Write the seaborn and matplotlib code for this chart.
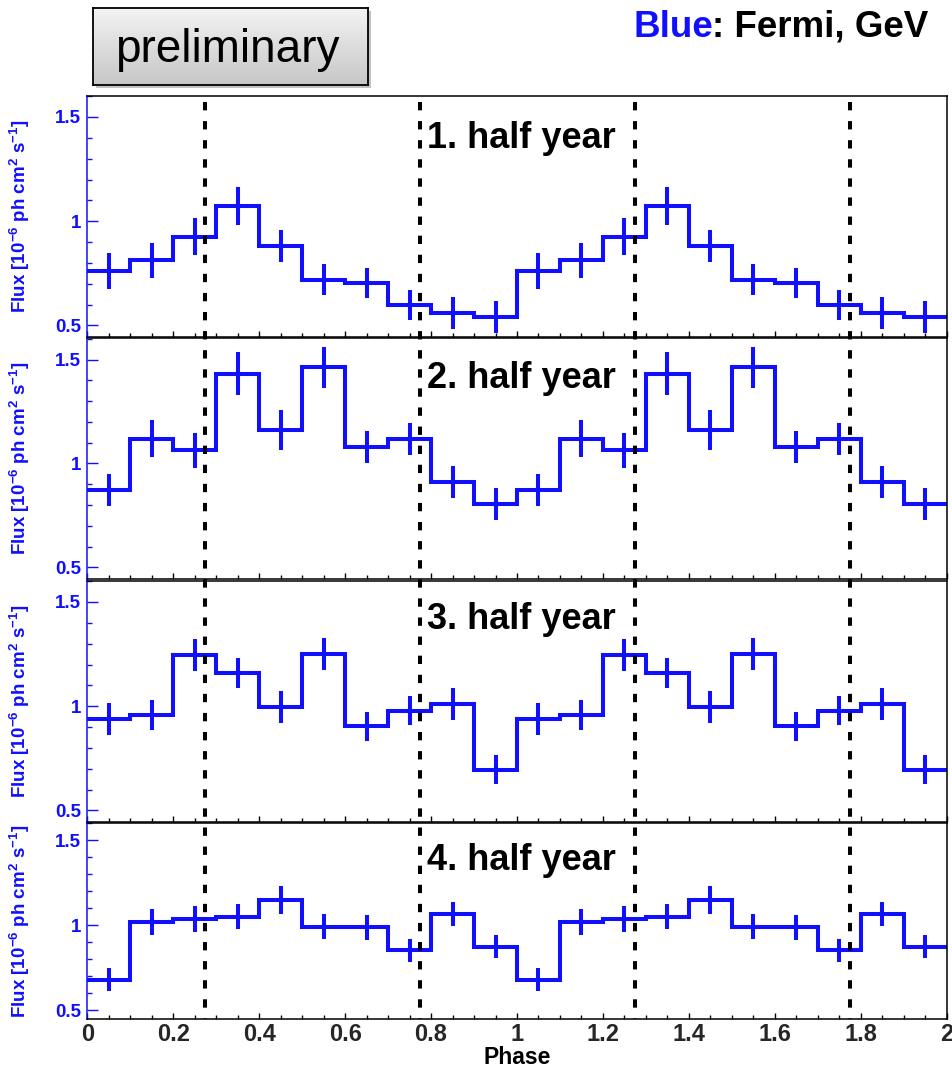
import numpy as np
import matplotlib
matplotlib.use("Agg")
import matplotlib.pyplot as plt
import seaborn as sns
from matplotlib.lines import Line2D
from matplotlib.patches import Rectangle
from matplotlib.ticker import MultipleLocator, FormatStrFormatter
from matplotlib.transforms import blended_transform_factory

# ---- data: folded light curve, one orbital cycle of 10 phase bins per half year
flux_h1 = [0.760, 0.813, 0.925, 1.073, 0.881, 0.720, 0.704, 0.597, 0.560, 0.541]
err_h1 = [0.086, 0.084, 0.088, 0.090, 0.078, 0.076, 0.070, 0.071, 0.076, 0.075]

flux_h2 = [0.872, 1.120, 1.064, 1.431, 1.160, 1.463, 1.077, 1.116, 0.909, 0.805]
err_h2 = [0.076, 0.090, 0.085, 0.104, 0.097, 0.098, 0.077, 0.077, 0.077, 0.078]

flux_h3 = [0.940, 0.960, 1.246, 1.158, 0.995, 1.251, 0.903, 0.979, 1.011, 0.695]
err_h3 = [0.076, 0.072, 0.076, 0.072, 0.076, 0.077, 0.069, 0.069, 0.076, 0.069]

flux_h4 = [0.678, 1.018, 1.037, 1.051, 1.149, 0.992, 0.988, 0.851, 1.065, 0.874]
err_h4 = [0.067, 0.078, 0.078, 0.075, 0.081, 0.075, 0.074, 0.067, 0.071, 0.068]

panel_labels = ["1. half year", "2. half year", "3. half year", "4. half year"]
bin_width = 0.1
n_cycles = 2
marker_phases = [0.275, 0.775, 1.275, 1.775]
x_ticks = [0, 0.2, 0.4, 0.6, 0.8, 1.0, 1.2, 1.4, 1.6, 1.8, 2.0]
y_ticks = [0.5, 1.0, 1.5]

series = [(flux_h1, err_h1), (flux_h2, err_h2), (flux_h3, err_h3), (flux_h4, err_h4)]

# ---- style
sns.set_style("white")
plt.rcParams["font.family"] = ["Liberation Sans", "DejaVu Sans"]
plt.rcParams["mathtext.fontset"] = "custom"
plt.rcParams["mathtext.rm"] = "Liberation Sans:bold"
plt.rcParams["mathtext.bf"] = "Liberation Sans:bold"
plt.rcParams["mathtext.it"] = "Liberation Sans:bold"

BLUE = "#1010ff"
W, H = 952, 1068
fig = plt.figure(figsize=(W / 100, H / 100), dpi=100)
fig.patch.set_facecolor("white")

# panel extents in pixels (top, bottom)
panel_px = [(95.7, 336.5), (338.3, 578.5), (580.7, 821.5), (823.0, 1019.0)]
left_px, right_px = 87.3, 946.7
label_drop_px = [52.5, 50.0, 48.5, 47.5]

axes = []
for i, ((top, bot), (flux, err)) in enumerate(zip(panel_px, series)):
    ax = fig.add_axes([left_px / W, 1 - bot / H, (right_px - left_px) / W, (bot - top) / H])
    axes.append(ax)

    vals = np.tile(np.asarray(flux), n_cycles)
    errs = np.tile(np.asarray(err), n_cycles)
    edges = np.arange(len(vals) + 1) * bin_width
    centers = edges[:-1] + bin_width / 2

    sns.lineplot(x=edges, y=np.append(vals, vals[-1]), drawstyle="steps-post",
                 color=BLUE, lw=2.9, ax=ax, solid_joinstyle="miter")
    ax.errorbar(centers, vals, yerr=errs, fmt="none", ecolor=BLUE,
                elinewidth=2.9, capsize=0)

    ax.set_xlim(0, 2)
    ax.set_ylim(0.447, 1.602)
    ax.set_xticks(x_ticks)
    ax.xaxis.set_minor_locator(MultipleLocator(0.05))
    ax.set_yticks(y_ticks)
    ax.yaxis.set_minor_locator(MultipleLocator(0.1))
    ax.yaxis.set_major_formatter(FormatStrFormatter("%g"))
    ax.xaxis.set_major_formatter(FormatStrFormatter("%g"))

    ax.tick_params(axis="x", which="both", direction="in", bottom=True, top=False,
                   color="black", width=1.0, labelsize=17, pad=3)
    ax.tick_params(axis="x", which="major", length=4.5)
    ax.tick_params(axis="x", which="minor", length=2.6)
    ax.tick_params(axis="y", which="both", direction="in", left=True, right=False,
                   color=BLUE, labelcolor=BLUE, width=1.0, labelsize=13.5, pad=4.5)
    ax.tick_params(axis="y", which="major", length=8)
    ax.tick_params(axis="y", which="minor", length=3.8)
    for lab in ax.get_xticklabels() + ax.get_yticklabels():
        lab.set_fontweight("bold")

    for side in ["top", "right", "bottom"]:
        ax.spines[side].set_color("black")
        ax.spines[side].set_linewidth(1.1)
    ax.spines["left"].set_color(BLUE)
    ax.spines["left"].set_linewidth(1.1)

    ax.set_ylabel(r"Flux [10$^{-6}$ ph cm$^{2}$ s$^{-1}$]", color=BLUE,
                  fontsize=13.5, fontweight="bold")
    ax.yaxis.set_label_coords(-0.064, 0.5)
    ax.set_xlabel("")

    if i < 3:
        ax.tick_params(axis="x", labelbottom=False)

    ax.annotate(panel_labels[i], xy=(0.79, 1.0), xycoords=("data", "axes fraction"),
                xytext=(0, -label_drop_px[i]), textcoords="offset pixels",
                ha="left", va="baseline", fontsize=26, fontweight="bold", color="black")

# x-axis title under the bottom panel, centred on phase 1
axes[-1].annotate("Phase", xy=(1.0, 0.0), xycoords=("data", "axes fraction"),
                  xytext=(0, -(1064.5 - 1019.0)), textcoords="offset pixels",
                  ha="center", va="baseline", fontsize=16.5, fontweight="bold",
                  color="black")

# dashed phase markers running through all panels
trans = blended_transform_factory(axes[-1].transData, fig.transFigure)
for xp in marker_phases:
    fig.add_artist(Line2D([xp, xp], [1 - 101.7 / H, 1 - 1019.0 / H], transform=trans,
                          color="black", lw=2.9, linestyle=(0, (2.07, 2.67)),
                          zorder=5))

# "preliminary" box with soft shadow and gray gradient
bx0, by0, bx1, by1 = 93.3, 8.3, 368.3, 85.0
fig.add_artist(Rectangle(((bx0 + 3) / W, 1 - (by1 + 3) / H), (bx1 - bx0) / W, (by1 - by0) / H,
                         transform=fig.transFigure, facecolor="#9a9a9a", edgecolor="none",
                         alpha=0.6, zorder=1))
bax = fig.add_axes([bx0 / W, 1 - by1 / H, (bx1 - bx0) / W, (by1 - by0) / H], zorder=2)
grad = np.linspace(0, 1, 256)[:, None]
bax.imshow(grad, aspect="auto", cmap=matplotlib.colors.LinearSegmentedColormap.from_list(
    "boxgrad", ["#f4f4f4", "#c6c6c6"]), extent=[0, 1, 0, 1], origin="upper")
bax.set_xticks([])
bax.set_yticks([])
for sp in bax.spines.values():
    sp.set_color("black")
    sp.set_linewidth(1.3)
fig.text(227.2 / W, 1 - 61.7 / H, "preliminary", ha="center", va="baseline",
         fontsize=33, color="black", zorder=3)

# colour key in the upper right
t_rest = fig.text(928.0 / W, 1 - 36.7 / H, ": Fermi, GeV", ha="right", va="baseline",
                  fontsize=26.5, fontweight="bold", color="black")
fig.canvas.draw()
bb = t_rest.get_window_extent()
fig.text((bb.x0 + 1) / W, 1 - 36.7 / H, "Blue", ha="right", va="baseline",
         fontsize=26.5, fontweight="bold", color=BLUE)

fig.savefig("out.png", dpi=100)
